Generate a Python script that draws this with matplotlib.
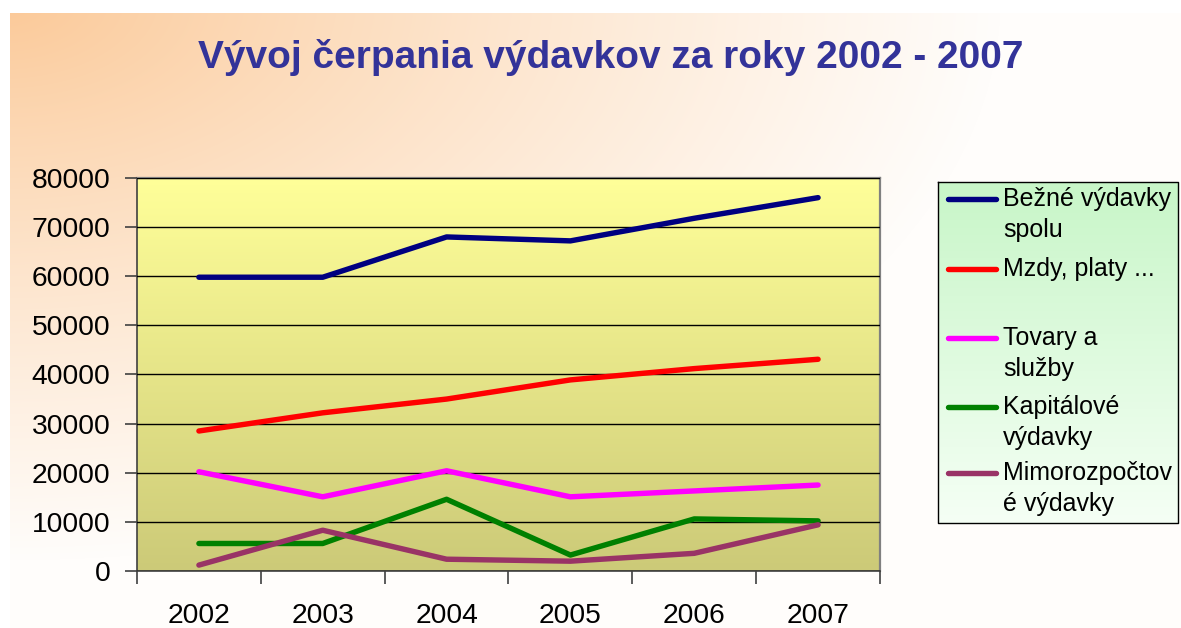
import numpy as np
import matplotlib
matplotlib.use("Agg")
import matplotlib.pyplot as plt
from matplotlib.lines import Line2D

# ---- data ----
years = ["2002", "2003", "2004", "2005", "2006", "2007"]
bezne = [59800, 59800, 68000, 67200, 71800, 76000]
mzdy = [28500, 32200, 35000, 38900, 41200, 43100]
tovary = [20200, 15100, 20400, 15100, 16300, 17500]
kapitalove = [5600, 5600, 14600, 3250, 10600, 10200]
mimorozpoctove = [1200, 8300, 2400, 2000, 3600, 9400]

series_labels = ["Bežné výdavky\nspolu", "Mzdy, platy ...\n", "Tovary a\nslužby",
                 "Kapitálové\nvýdavky", "Mimorozpočtov\né výdavky"]
series_values = [bezne, mzdy, tovary, kapitalove, mimorozpoctove]
series_colors = ["#000080", "#ff0000", "#ff00ff", "#008000", "#993366"]
title = "Vývoj čerpania výdavkov za roky 2002 - 2007"
yticks = [0, 10000, 20000, 30000, 40000, 50000, 60000, 70000, 80000]

W, H = 1181, 628
plt.rcParams['font.family'] = ['Liberation Sans', 'DejaVu Sans']
fig = plt.figure(figsize=(W / 100, H / 100), dpi=100)

# ---- background gradient ----
bg = fig.add_axes([0, 0, 1, 1], zorder=-10)
xx, yy = np.meshgrid(np.arange(W), np.arange(H))
t = np.clip(np.sqrt((xx / 1000.0) ** 2 + (yy / 560.0) ** 2), 0, 1) ** 0.85
c0 = np.array([251, 200, 150]) / 255.0
c1 = np.array([255, 253, 251]) / 255.0
img = c0[None, None, :] * (1 - t[..., None]) + c1[None, None, :] * t[..., None]
img[:, :10, :] = 1.0
img[:13, :, :] = 1.0
bg.imshow(img, extent=[0, W, H, 0], aspect='auto', interpolation='bilinear')
bg.set_xlim(0, W)
bg.set_ylim(H, 0)
bg.axis('off')

# ---- main axes ----
L, R, T, B = 137, 880, 178, 571
ax = fig.add_axes([L / W, 1 - B / H, (R - L) / W, (B - T) / H])
grad = np.linspace(0, 1, 256)[:, None]
top_c = np.array([255, 255, 153]) / 255.0
bot_c = np.array([204, 202, 120]) / 255.0
pa = top_c[None, None, :] * (1 - grad[..., None]) + bot_c[None, None, :] * grad[..., None]
pa = np.repeat(pa, 2, axis=1)
ax.imshow(pa, extent=[0, 1, 0, 1], transform=ax.transAxes, aspect='auto', zorder=0)

x = np.arange(len(years))
for vals, col in zip(series_values, series_colors):
    ax.plot(x, vals, color=col, lw=3.9, solid_capstyle='round', solid_joinstyle='round', zorder=3)

ax.set_xlim(-0.5, len(years) - 0.5)
ax.set_ylim(0, 80000)
ax.set_yticks(yticks)
ax.set_yticklabels([str(v) for v in yticks], fontsize=20.3)
ax.yaxis.grid(True, color='black', lw=1.0, zorder=1)
ax.set_axisbelow(False)
for gl in ax.get_ygridlines():
    gl.set_zorder(1)

ax.set_xticks(np.arange(-0.5, len(years), 1.0))
ax.set_xticklabels([])
ax.set_xticks(x, minor=True)
ax.set_xticklabels(years, minor=True, fontsize=20.3)
ax.tick_params(axis='x', which='major', length=9, width=1.2, color='#404040', direction='out')
ax.tick_params(axis='x', which='minor', length=0, pad=23)
ax.tick_params(axis='y', length=9, width=1.2, color='#404040', pad=10)

for s in ['top', 'right']:
    ax.spines[s].set_color('#808080')
    ax.spines[s].set_linewidth(1.6)
for s in ['left', 'bottom']:
    ax.spines[s].set_color('#404040')
    ax.spines[s].set_linewidth(1.2)

# ---- title ----
fig.text(611 / W, 1 - 57 / H, title, ha='center', va='center', fontsize=28,
         fontweight='bold', color='#333399')

# ---- legend (manual, pixel coordinates) ----
lg = fig.add_axes([0, 0, 1, 1], zorder=10)
lg.set_xlim(0, W)
lg.set_ylim(H, 0)
lg.axis('off')
lx0, ly0, lx1, ly1 = 938, 182, 1178, 523
lgrad = np.linspace(0, 1, 256)[:, None]
lc_top = np.array([200, 246, 200]) / 255.0
lc_bot = np.array([245, 255, 245]) / 255.0
limg = lc_top[None, None, :] * (1 - lgrad[..., None]) + lc_bot[None, None, :] * lgrad[..., None]
limg = np.repeat(limg, 2, axis=1)
lg.imshow(limg, extent=[lx0, lx1, ly1, ly0], aspect='auto', zorder=1)
lg.plot([lx0, lx1, lx1, lx0, lx0], [ly0, ly0, ly1, ly1, ly0], color='black', lw=1.0, zorder=2)
lg.set_xlim(0, W)
lg.set_ylim(H, 0)

entry_y = [199, 269, 338, 407, 473]
line_gap = 31
for lab, col, ey in zip(series_labels, series_colors, entry_y):
    lg.add_line(Line2D([948, 996], [ey, ey], color=col, lw=3.9, solid_capstyle='round', zorder=3))
    for k, part in enumerate(lab.split("\n")):
        if part:
            lg.text(1003, ey + k * line_gap, part, ha='left', va='center', fontsize=18,
                    color='black', zorder=3, clip_on=False)

fig.savefig("out.png", dpi=100)
